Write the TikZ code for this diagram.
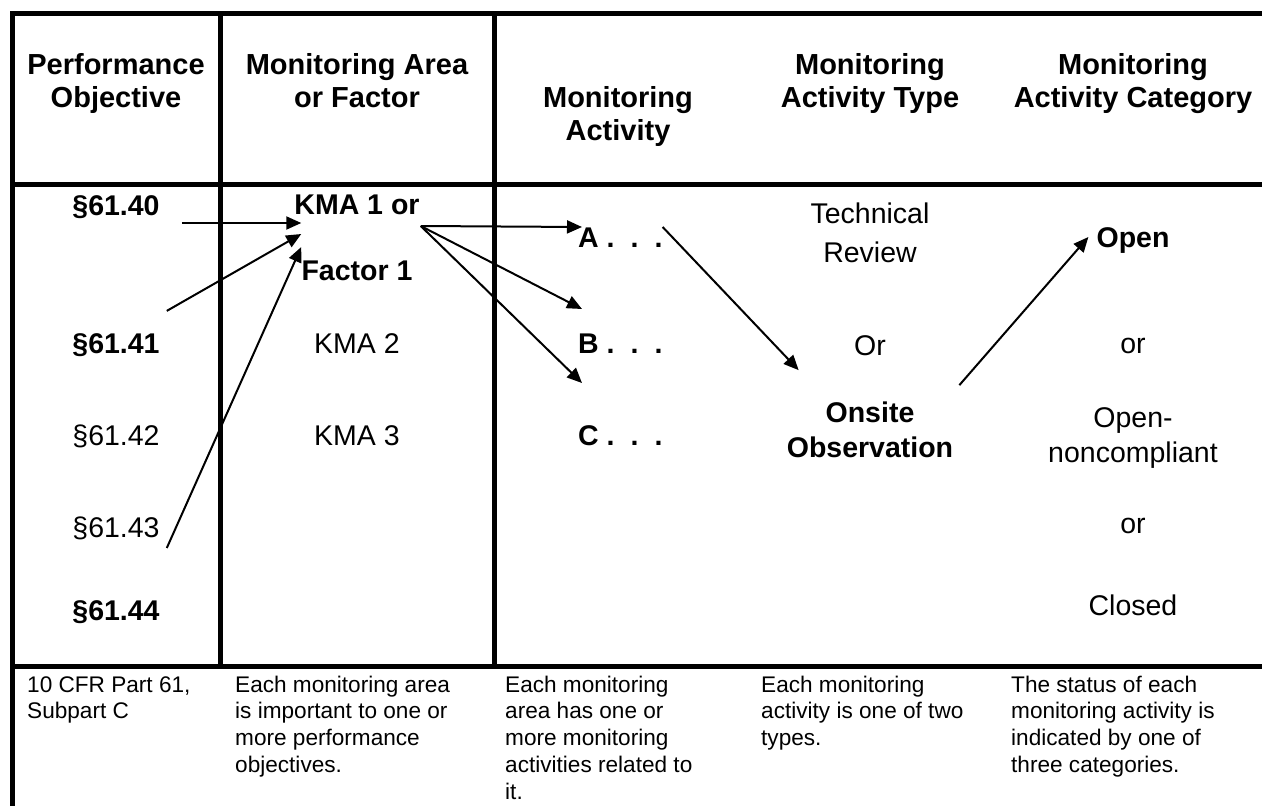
\documentclass[tikz,border=0pt]{standalone}
\usepackage{fontspec}
\setmainfont{Liberation Sans}
\usetikzlibrary{arrows.meta}

\begin{document}
\begin{tikzpicture}
  [x=1pt,y=-1pt,
   every node/.style={inner sep=0pt,anchor=base,font=\fontsize{28.5}{33}\selectfont},
   head/.style={align=center,font=\fontsize{29}{33}\selectfont\bfseries},
   bold/.style={font=\fontsize{28.5}{33}\selectfont\bfseries},
   note/.style={anchor=base west,align=left,font=\fontsize{22.6}{26.8}\selectfont},
   rule/.style={line width=5pt},
   arr/.style={line width=2pt,arrows={-{Triangle[length=15pt,width=13pt]}}}]
  \useasboundingbox (0,0) rectangle (1262,806);
  % table rules
  \draw[rule] (12,806) -- (12,13) -- (1262,13);
  \draw[rule] (12,184) -- (1262,184);
  \draw[rule] (12,666) -- (1262,666);
  \draw[rule] (220,13) -- (220,666);
  \draw[rule] (494,13) -- (494,666);

  % headings (placed at last baseline)
  \node[head] (h1) at (116,107) {Performance\\Objective};
  \node[head] (h2) at (357,107) {Monitoring Area\\or Factor};
  \node[head] (h3) at (618,140) {Monitoring\\Activity};
  \node[head] (h4) at (870,107) {Monitoring\\Activity Type};
  \node[head] (h5) at (1133,107) {Monitoring\\Activity Category};

  % objectives
  \node[bold] (p40) at (116,215) {§61.40};
  \node[bold] (p41) at (116,353) {§61.41};
  \node (p42) at (116,445) {§61.42};
  \node (p43) at (116,537) {§61.43};
  \node[bold] (p44) at (116,620) {§61.44};

  % areas
  \node[bold] (kma1) at (357,214) {KMA 1 or};
  \node[bold] (fac1) at (357,280) {Factor 1};
  \node (kma2) at (357,353) {KMA 2};
  \node (kma3) at (357,445) {KMA 3};

  % activities
  \node[bold,anchor=base west] (actA) at (578,247) {A .\hspace{16pt}.\hspace{16pt}.};
  \node[bold,anchor=base west] (actB) at (578,353) {B .\hspace{16pt}.\hspace{16pt}.};
  \node[bold,anchor=base west] (actC) at (578,445) {C .\hspace{16pt}.\hspace{16pt}.};

  % types
  \node[align=center] (tech) at (870,262) {Technical\\[6pt]Review};
  \node (or1) at (870,355) {Or};
  \node[bold,align=center] (onsite) at (870,457) {Onsite\\[2pt]Observation};

  % categories
  \node[bold] (open) at (1133,247) {Open};
  \node (or2) at (1133,353) {or};
  \node[align=center] (opnc) at (1133,462) {Open-\\[2pt]noncompliant};
  \node (or3) at (1133,533) {or};
  \node (closed) at (1133,615) {Closed};

  % notes (placed at last baseline)
  \node[note] (n1) at (27,718.8) {10 CFR Part 61,\\Subpart C};
  \node[note] (n2) at (235,772.4) {Each monitoring area\\is important to one or\\more performance\\objectives.};
  \node[note] (n3) at (505,799.2) {Each monitoring\\area has one or\\more monitoring\\activities related to\\it.};
  \node[note] (n4) at (761,745.6) {Each monitoring\\activity is one of two\\types.};
  \node[note] (n5) at (1011,772.4) {The status of each\\monitoring activity is\\indicated by one of\\three categories.};

  \draw[arr] ([shift={(22,8)}]p40.base east) -- ([shift={(7,9)}]kma1.base west);
  \draw[arr] ([shift={(7,-22)}]p41.north east) -- ([shift={(7,20)}]kma1.base west);
  \draw[arr] ([shift={(7,11)}]p43.base east) -- ([shift={(7,33)}]kma1.base west);
  \draw[arr] ([shift={(1,12)}]kma1.base east) -- ([shift={(4,-20)}]actA.base west);
  \draw[arr] ([shift={(1,12)}]kma1.base east) -- ([shift={(4,-44)}]actB.base west);
  \draw[arr] ([shift={(1,12)}]kma1.base east) -- ([shift={(4,30)}]actB.base west);
  \draw[arr] ([shift={(0,-20)}]actA.base east) -- ([shift={(12,-31)}]onsite.north west);
  \draw[arr] ([shift={(6,-16)}]onsite.north east) -- ([shift={(-8,-10)}]open.base west);
\end{tikzpicture}
\end{document}
